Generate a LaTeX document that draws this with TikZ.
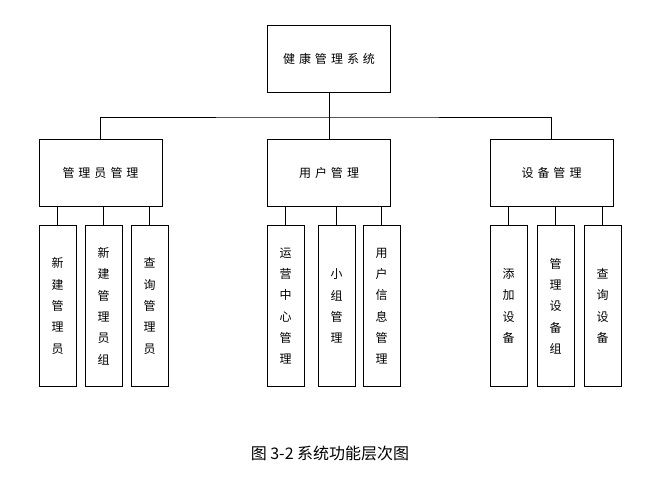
\documentclass[tikz,border=0pt]{standalone}
\usepackage{fontspec}
\newfontfamily\cjk{Noto Sans CJK SC}

\tikzset{
  box/.style={draw, minimum width=92.25pt, minimum height=50.5pt, font=\cjk\fontsize{9}{11}\selectfont},
  leaf/.style={draw, minimum width=27.75pt, minimum height=120.75pt, align=center,
    font=\cjk\fontsize{9}{16}\selectfont, inner sep=1pt}
}
\newcommand{\gap}{\hspace{3pt}}

\begin{document}
\begin{tikzpicture}[x=0.75pt,y=-0.75pt]
  \useasboundingbox (0,0) rectangle (660,483);
  \node[box](Sys) at (329,58.5) {健\gap 康\gap 管\gap 理\gap 系\gap 统};
  \node[box](Adm) at (100.5,172.5) {管\gap 理\gap 员\gap 管\gap 理};
  \node[box](Usr) at (329,172.5) {用\gap 户\gap 管\gap 理};
  \node[box](Dev) at (551.5,172.5) {设\gap 备\gap 管\gap 理};

  \node[leaf](A1) at (57.5,306) {新\\建\\管\\理\\员};
  \node[leaf](A2) at (103.5,306) {新\\建\\管\\理\\员\\组};
  \node[leaf](A3) at (149.5,306) {查\\询\\管\\理\\员};
  \node[leaf](U1) at (285.5,306) {运\\营\\中\\心\\管\\理};
  \node[leaf](U2) at (336.5,306) {小\\组\\管\\理};
  \node[leaf](U3) at (381.5,306) {用\\户\\信\\息\\管\\理};
  \node[leaf](D1) at (508.5,306) {添\\加\\设\\备};
  \node[leaf](D2) at (555.5,306) {管\\理\\设\\备\\组};
  \node[leaf](D3) at (602.5,306) {查\\询\\设\\备};

  \coordinate (Bus) at (329,117);
  \draw (Sys) -- (Bus);
  \draw (Adm.north) |- (Bus) -| (Dev.north);
  \draw (Bus) -- (Usr);
  \foreach \p/\c in {Adm/A1,Adm/A2,Adm/A3,Usr/U1,Usr/U2,Usr/U3,Dev/D1,Dev/D2,Dev/D3}
    \draw (\c.north) -- (\c.north |- \p.south);

  \node[font=\cjk\fontsize{12}{14}\selectfont](Cap) at (330,453) {图 3-2 系统功能层次图};
\end{tikzpicture}
\end{document}
